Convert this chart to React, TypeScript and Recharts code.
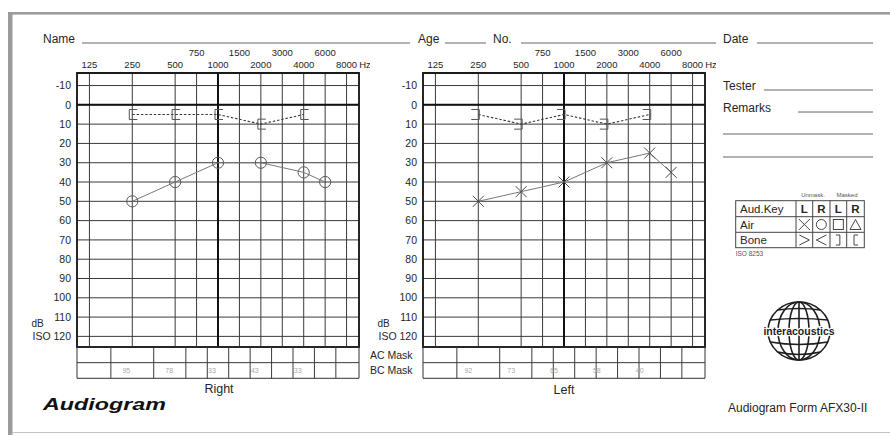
import { ComposedChart, Scatter, XAxis, YAxis, CartesianGrid, ReferenceLine, ReferenceArea } from "recharts";

const FONT = "'Liberation Sans', Arial, sans-serif";

// audiogram axes
const FREQS = [125, 250, 500, 750, 1000, 1500, 2000, 3000, 4000, 6000, 8000];
const HALF_OCTAVE_FREQS = [750, 1500, 3000, 6000];
const DB_TICKS = [-10, 0, 10, 20, 30, 40, 50, 60, 70, 80, 90, 100, 110, 120];

// air conduction
const AIR_FREQS = [250, 500, 1000, 2000, 4000, 6000];
const RIGHT_AIR = [50, 40, 30, 30, 35, 40];
const LEFT_AIR = [50, 45, 40, 30, 25, 35];

// masked bone conduction
const BONE_FREQS = [250, 500, 1000, 2000, 4000];
const RIGHT_BONE = [5, 5, 5, 10, 5];
const LEFT_BONE = [5, 10, 5, 10, 5];

// masking levels
const MASK_FREQS = [250, 500, 1000, 2000, 4000];
const RIGHT_BC_MASK = [95, 78, 33, 43, 33];
const LEFT_BC_MASK = [92, 73, 65, 58, 40];
const MASK_ROWS = ["AC Mask", "BC Mask"];

// symbol key
const KEY_HEAD = ["Aud.Key", "L", "R", "L", "R"];
const KEY_ROWS = ["Air", "Bone"];

const X_DOMAIN: [number, number] = [-0.29, 6.29];
const Y_DOMAIN: [number, number] = [-16.5, 125.5];

// audiogram x scale: octaves from 125 Hz, half-octave lines sit midway
const pos = (f: number) =>
  HALF_OCTAVE_FREQS.includes(f) ? Math.log2(f / 1.5 / 125) + 0.5 : Math.log2(f / 125);

const maskBounds = FREQS.slice(1).map((f, i) => (pos(f) + pos(FREQS[i])) / 2);

const toPoints = (freqs: number[], vals: number[]) => freqs.map((f, i) => ({ x: pos(f), y: vals[i] }));

const INK = "#262626";
const GRID = "#3a3a3a";

function FreqTick(props: any) {
  const { x, payload } = props;
  const f = FREQS.find((q) => Math.abs(pos(q) - payload.value) < 1e-6);
  if (f === undefined) return null;
  const half = HALF_OCTAVE_FREQS.includes(f);
  return (
    <g fontFamily={FONT} fontSize={9.5} fill={INK}>
      <text x={x} y={half ? 56 : 68} textAnchor="middle">{f}</text>
      {f === 8000 && <text x={x + 12.6} y={68}>Hz</text>}
    </g>
  );
}

function DbTick(props: any) {
  const { y, payload } = props;
  const v = payload.value;
  return (
    <g fontFamily={FONT} fill={INK}>
      <text x={71} y={y} dy={3.7} textAnchor="end" fontSize={10.5}>{v === 120 ? "ISO 120" : v}</text>
      {v === 110 && <text x={31.5} y={y + 10} fontSize={10}>dB</text>}
    </g>
  );
}

const circleShape = (p: any) => <circle cx={p.cx} cy={p.cy} r={5.6} fill="none" stroke="#5a5a5a" strokeWidth={1} />;
const crossShape = (p: any) => (
  <path d={`M${p.cx - 5.5},${p.cy - 5.5}L${p.cx + 5.5},${p.cy + 5.5}M${p.cx - 5.5},${p.cy + 5.5}L${p.cx + 5.5},${p.cy - 5.5}`} stroke="#4a4a4a" strokeWidth={1} fill="none" />
);
const openBracket = (p: any) => (
  <path d={`M${p.cx + 5},${p.cy - 5}H${p.cx - 3}V${p.cy + 5}H${p.cx + 5}`} stroke="#555" strokeWidth={1} fill="none" />
);
const closeBracket = (p: any) => (
  <path d={`M${p.cx - 7},${p.cy - 5}H${p.cx + 1}V${p.cy + 5}H${p.cx - 7}`} stroke="#555" strokeWidth={1} fill="none" />
);

function Audiogram({ left, air, bone, airShape, boneShape }: any) {
  return (
    <div style={{ position: "absolute", left, top: 0 }}>
      <ComposedChart width={370} height={350} margin={{ top: 43, right: 11, bottom: 3, left: 17 }}>
        <XAxis type="number" dataKey="x" orientation="top" domain={X_DOMAIN} allowDataOverflow ticks={FREQS.map(pos)} interval={0} height={30} axisLine={false} tickLine={false} tick={<FreqTick />} />
        <YAxis type="number" dataKey="y" domain={Y_DOMAIN} allowDataOverflow reversed ticks={DB_TICKS} interval={0} width={60} axisLine={false} tickLine={false} tick={<DbTick />} />
        <CartesianGrid stroke={GRID} strokeWidth={1} />
        <ReferenceLine y={0} stroke="#111" strokeWidth={2} />
        <ReferenceLine x={pos(1000)} stroke="#111" strokeWidth={2} />
        <ReferenceArea x1={X_DOMAIN[0]} x2={X_DOMAIN[1]} y1={Y_DOMAIN[0]} y2={Y_DOMAIN[1]} fill="none" fillOpacity={0} stroke="#1a1a1a" strokeWidth={1.8} />
        <Scatter data={bone} isAnimationActive={false} shape={boneShape} line={{ stroke: "#3a3a3a", strokeWidth: 1.1, strokeDasharray: "2.5 1.8" }} lineType="joint" />
        <Scatter data={air} isAnimationActive={false} shape={airShape} line={{ stroke: "#7a7a7a", strokeWidth: 1 }} lineType="joint" />
      </ComposedChart>
    </div>
  );
}

function MaskTick(props: any) {
  const { y, payload } = props;
  return (
    <text x={300} y={y} dy={3.7} fontFamily={FONT} fontSize={10.5} fill={INK}>
      {MASK_ROWS[payload.value > 1 ? 1 : 0]}
    </text>
  );
}

function MaskTable({ left, values, dx, showRows }: any) {
  const data = MASK_FREQS.map((f, i) => ({ x: pos(f), y: 1.5, v: values[i] }));
  const valueShape = (p: any) => (
    <text x={p.cx + dx} y={p.cy + 2.5} textAnchor="middle" fontFamily={FONT} fontSize={7} fill="#a8a8a8">{p.payload.v}</text>
  );
  return (
    <div style={{ position: "absolute", left, top: 342 }}>
      <ComposedChart width={showRows ? 360 : 300} height={45} margin={{ top: 5, right: 11, bottom: 8.7, left: 7 }}>
        <XAxis type="number" dataKey="x" domain={X_DOMAIN} allowDataOverflow hide />
        {showRows ? (
          <YAxis type="number" dataKey="y" orientation="right" domain={[0, 2]} reversed ticks={[0.5, 1.5]} interval={0} width={60} axisLine={false} tickLine={false} tick={<MaskTick />} />
        ) : (
          <YAxis type="number" dataKey="y" domain={[0, 2]} reversed hide />
        )}
        <ReferenceLine y={1} stroke={GRID} strokeWidth={1} />
        {maskBounds.map((b) => (
          <ReferenceLine key={b} x={b} stroke={GRID} strokeWidth={1} />
        ))}
        <ReferenceArea x1={X_DOMAIN[0]} x2={X_DOMAIN[1]} y1={0} y2={2} fill="none" fillOpacity={0} stroke="#333" strokeWidth={1} />
        <Scatter data={data} isAnimationActive={false} shape={valueShape} />
      </ComposedChart>
    </div>
  );
}

function Globe({ cx, cy }: { cx: number; cy: number }) {
  const rx = 31;
  const ry = 29;
  const parallels = [-21, -11, 11, 21];
  return (
    <g stroke="#1e1e1e" strokeWidth={1.6} fill="none">
      <ellipse cx={cx} cy={cy} rx={rx} ry={ry} />
      <ellipse cx={cx} cy={cy} rx={21} ry={ry} />
      <ellipse cx={cx} cy={cy} rx={10} ry={ry} />
      <line x1={cx} y1={cy - ry} x2={cx} y2={cy + ry} />
      {parallels.map((d) => {
        const w = rx * Math.sqrt(1 - (d / ry) ** 2);
        return <path key={d} d={`M${cx - w},${cy + d}Q${cx},${cy + d + (d > 0 ? 5 : -3)} ${cx + w},${cy + d}`} />;
      })}
      <text x={cx} y={cy + 3.5} textAnchor="middle" fontFamily={FONT} fontWeight="bold" fontSize={10.5} fill="#1e1e1e" stroke="#fff" strokeWidth={2.5} paintOrder="stroke">
        interacoustics
      </text>
    </g>
  );
}

function FormLayer() {
  const cols = [735.7, 796, 812.7, 830, 846.7, 864.3];
  const rows = [200.7, 216.7, 232.3, 247.7];
  const colMid = (i: number) => (cols[i] + cols[i + 1]) / 2;
  const rowMid = (i: number) => (rows[i] + rows[i + 1]) / 2;
  const sym = "#444";
  return (
    <svg width={890} height={435} style={{ position: "absolute", left: 0, top: 0 }} fontFamily={FONT}>
      <rect x={8} y={12} width={882} height={2.6} fill="#9c9c9c" />
      <rect x={8} y={12} width={4.5} height={423} fill="#9c9c9c" />
      <line x1={12} y1={432.5} x2={890} y2={432.5} stroke="#c4c4c4" strokeWidth={1} />

      <g fontSize={12} fill={INK}>
        <text x={43} y={43}>Name</text>
        <text x={418} y={43}>Age</text>
        <text x={493} y={43}>No.</text>
        <text x={723} y={43}>Date</text>
        <text x={723} y={90}>Tester</text>
        <text x={723} y={112}>Remarks</text>
      </g>
      <g stroke="#555" strokeWidth={0.9}>
        <line x1={82} y1={43} x2={410} y2={43} />
        <line x1={445} y1={43} x2={486} y2={43} />
        <line x1={521} y1={43} x2={716} y2={43} />
        <line x1={757} y1={43} x2={873} y2={43} />
        <line x1={764} y1={90} x2={873} y2={90} />
        <line x1={798} y1={112} x2={873} y2={112} />
        <line x1={723} y1={134} x2={873} y2={134} />
        <line x1={723} y1={157} x2={873} y2={157} />
      </g>

      <g fontSize={6} fill="#555" textAnchor="middle">
        <text x={813} y={197}>Unmask.</text>
        <text x={847} y={197}>Masked</text>
      </g>
      <rect x={cols[0]} y={rows[0]} width={cols[5] - cols[0]} height={rows[3] - rows[0]} fill="none" stroke="#444" strokeWidth={1} />
      {rows.slice(1, 3).map((r) => (
        <line key={r} x1={cols[0]} y1={r} x2={cols[5]} y2={r} stroke="#444" strokeWidth={1} />
      ))}
      {cols.slice(1, 5).map((c) => (
        <line key={c} x1={c} y1={rows[0]} x2={c} y2={rows[3]} stroke="#444" strokeWidth={1} />
      ))}
      <g fontSize={11.5} fill={INK}>
        <text x={740} y={rowMid(0) + 4}>{KEY_HEAD[0]}</text>
        {KEY_HEAD.slice(1).map((t, i) => (
          <text key={i} x={colMid(i + 1)} y={rowMid(0) + 4} textAnchor="middle" fontWeight="bold">{t}</text>
        ))}
        {KEY_ROWS.map((t, i) => (
          <text key={t} x={740} y={rowMid(i + 1) + 4}>{t}</text>
        ))}
      </g>
      <g stroke={sym} strokeWidth={1} fill="none">
        {crossShape({ cx: colMid(1), cy: rowMid(1) })}
        <circle cx={colMid(2)} cy={rowMid(1)} r={5} stroke={sym} />
        <rect x={colMid(3) - 5} y={rowMid(1) - 5} width={10} height={10} stroke={sym} />
        <path d={`M${colMid(4) - 5.5},${rowMid(1) + 5}L${colMid(4)},${rowMid(1) - 5}L${colMid(4) + 5.5},${rowMid(1) + 5}Z`} stroke={sym} />
        <path d={`M${colMid(1) - 5},${rowMid(2) - 5}L${colMid(1) + 5},${rowMid(2)}L${colMid(1) - 5},${rowMid(2) + 5}`} stroke={sym} />
        <path d={`M${colMid(2) + 5},${rowMid(2) - 5}L${colMid(2) - 5},${rowMid(2)}L${colMid(2) + 5},${rowMid(2) + 5}`} stroke={sym} />
        <path d={`M${colMid(3) - 2.5},${rowMid(2) - 5}H${colMid(3) + 1.5}V${rowMid(2) + 5}H${colMid(3) - 2.5}`} stroke={sym} />
        <path d={`M${colMid(4) + 2.5},${rowMid(2) - 5}H${colMid(4) - 1.5}V${rowMid(2) + 5}H${colMid(4) + 2.5}`} stroke={sym} />
      </g>
      <text x={735.7} y={256} fontSize={6.5} fill="#555">ISO 8253</text>

      <Globe cx={799} cy={331} />

      <g fill={INK}>
        <text x={219} y={393} textAnchor="middle" fontSize={12.5}>Right</text>
        <text x={564} y={394} textAnchor="middle" fontSize={12.5}>Left</text>
        <text x={728} y={411.7} fontSize={12}>Audiogram Form AFX30-II</text>
        <text x={43} y={410.5} fontSize={17} fontWeight={900} fontStyle="italic" transform="translate(43 0) scale(1.37 1) translate(-43 0)" fill="#111">
          Audiogram
        </text>
      </g>
    </svg>
  );
}

export default function App() {
  return (
    <div style={{ position: "absolute", left: 0, top: 0, width: 890, height: 435, background: "#fff", overflow: "hidden" }}>
      <FormLayer />
      <Audiogram left={0} air={toPoints(AIR_FREQS, RIGHT_AIR)} bone={toPoints(BONE_FREQS, RIGHT_BONE)} airShape={circleShape} boneShape={openBracket} />
      <Audiogram left={346} air={toPoints(AIR_FREQS, LEFT_AIR)} bone={toPoints(BONE_FREQS, LEFT_BONE)} airShape={crossShape} boneShape={closeBracket} />
      <MaskTable left={70} values={RIGHT_BC_MASK} dx={-6} showRows />
      <MaskTable left={416} values={LEFT_BC_MASK} dx={-10} showRows={false} />
    </div>
  );
}
